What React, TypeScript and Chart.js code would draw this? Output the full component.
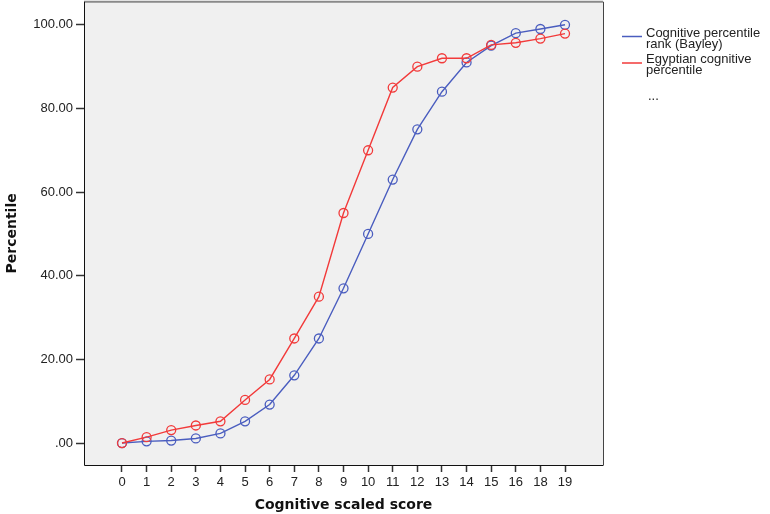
import React, { useEffect, useRef } from "react";
import { Chart, registerables } from "chart.js";

Chart.register(...registerables);

const categories = ["0", "1", "2", "3", "4", "5", "6", "7", "8", "9", "10", "11", "12", "13", "14", "15", "16", "18", "19"];
const bayley = [0, 0.4, 0.6, 1.1, 2.3, 5.2, 9.2, 16.2, 25, 37, 50, 63, 75, 84, 91, 95, 98, 99, 100];
const egyptian = [0, 1.4, 3.1, 4.2, 5.2, 10.3, 15.2, 25, 35, 55, 70, 85, 90, 92, 92, 95.2, 95.7, 96.7, 97.9];
const yTicks = [0, 20, 40, 60, 80, 100];
const legendItems = [
  { lines: ["Cognitive percentile", "rank (Bayley)"], color: "#4a5dbf" },
  { lines: ["Egyptian cognitive", "percentile"], color: "#f23a3a" },
];

const BLUE = "#4a5dbf";
const RED = "#f23a3a";
const SHIFT = 4;

const framePlugin = {
  id: "frame",
  beforeDatasetsDraw(chart: any) {
    const { ctx, chartArea: a } = chart;
    ctx.save();
    ctx.fillStyle = "#f0f0f0";
    ctx.fillRect(a.left, a.top, a.right - a.left, a.bottom - a.top);
    ctx.strokeStyle = "#8a8a8a";
    ctx.lineWidth = 2;
    ctx.beginPath();
    ctx.moveTo(a.left, a.top);
    ctx.lineTo(a.right, a.top);
    ctx.stroke();
    ctx.strokeStyle = "#444";
    ctx.lineWidth = 1;
    ctx.beginPath();
    ctx.moveTo(a.right + 0.5, a.top);
    ctx.lineTo(a.right + 0.5, a.bottom);
    ctx.stroke();
    ctx.strokeStyle = "#111";
    ctx.beginPath();
    ctx.moveTo(a.left + 0.5, a.top);
    ctx.lineTo(a.left + 0.5, a.bottom + 0.5);
    ctx.lineTo(a.right + 0.5, a.bottom + 0.5);
    ctx.stroke();
    ctx.restore();
  },
  afterDraw(chart: any) {
    const { ctx } = chart;
    ctx.save();
    ctx.font = "13px 'Liberation Sans', Arial, sans-serif";
    ctx.fillStyle = "#222";
    ctx.textBaseline = "middle";
    const x0 = 622;
    const starts = [33 + SHIFT, 59.5 + SHIFT];
    legendItems.forEach((it, i) => {
      const y = starts[i];
      ctx.strokeStyle = it.color;
      ctx.lineWidth = 1.5;
      ctx.beginPath();
      ctx.moveTo(x0, y + 3.5);
      ctx.lineTo(x0 + 20, y + 3.5);
      ctx.stroke();
      it.lines.forEach((ln, j) => {
        ctx.fillText(ln, x0 + 24, y + j * 11);
      });
    });
    ctx.fillText("...", x0 + 26, 96 + SHIFT);
    ctx.restore();
  },
};

export default function App() {
  const ref = useRef<HTMLCanvasElement | null>(null);
  useEffect(() => {
    document.body.style.margin = "0";
    const idx = categories.map((_, i) => i);
    const chart = new Chart(ref.current as HTMLCanvasElement, {
      type: "line",
      data: {
        datasets: [
          {
            label: "Cognitive percentile rank (Bayley)",
            data: idx.map((i) => ({ x: i, y: bayley[i] })),
            borderColor: BLUE,
            backgroundColor: "rgba(0,0,0,0)",
            pointBorderColor: BLUE,
            pointBackgroundColor: "rgba(0,0,0,0)",
            pointRadius: 4.5,
            pointBorderWidth: 1.3,
            borderWidth: 1.4,
            tension: 0,
            order: 1,
          },
          {
            label: "Egyptian cognitive percentile",
            data: idx.map((i) => ({ x: i, y: egyptian[i] })),
            borderColor: RED,
            backgroundColor: "rgba(0,0,0,0)",
            pointBorderColor: RED,
            pointBackgroundColor: "rgba(0,0,0,0)",
            pointRadius: 4.5,
            pointBorderWidth: 1.3,
            borderWidth: 1.4,
            tension: 0,
            order: 0,
          },
        ],
      },
      options: {
        animation: false,
        responsive: true,
        maintainAspectRatio: false,
        layout: { padding: { left: 0, right: 167, top: 1, bottom: 0 } },
        plugins: { legend: { display: false }, tooltip: { enabled: false } },
        scales: {
          x: {
            type: "linear",
            min: -1.544,
            max: 19.544,
            afterBuildTicks: (s: any) => {
              s.ticks = idx.map((i) => ({ value: i }));
            },
            afterFit: (s: any) => {
              s.height = 49;
              s.paddingLeft = 0;
              s.paddingRight = 0;
            },
            grid: { drawOnChartArea: false, drawTicks: true, tickLength: 7, color: "#333", tickWidth: 1.5 },
            border: { display: false },
            ticks: {
              autoSkip: false,
              maxRotation: 0,
              padding: 3,
              color: "#222",
              font: { family: "'Liberation Sans', Arial, sans-serif", size: 13 },
              callback: (v: any) => categories[Math.round(Number(v))] ?? "",
            },
            title: {
              display: true,
              text: "Cognitive scaled score",
              color: "#111",
              font: { family: "'DejaVu Sans', sans-serif", size: 14, weight: "bold" },
              padding: { top: 4, bottom: 0 },
            },
          },
          y: {
            min: -5.25,
            max: 105.5,
            afterBuildTicks: (s: any) => {
              s.ticks = yTicks.map((v) => ({ value: v }));
            },
            afterFit: (s: any) => {
              s.width = 84;
              s.paddingTop = 0;
              s.paddingBottom = 0;
            },
            grid: { drawOnChartArea: false, drawTicks: true, tickLength: 8, color: "#333", tickWidth: 1.5 },
            border: { display: false },
            ticks: {
              padding: 3,
              color: "#222",
              font: { family: "'Liberation Sans', Arial, sans-serif", size: 13 },
              callback: (v: any) => (Number(v) === 0 ? ".00" : Number(v).toFixed(2)),
            },
            title: {
              display: true,
              text: "Percentile",
              color: "#111",
              font: { family: "'DejaVu Sans', sans-serif", size: 14, weight: "bold" },
              padding: { top: 4, bottom: 4 },
            },
          },
        },
      },
      plugins: [framePlugin],
    } as any);
    return () => chart.destroy();
  }, []);
  return (
    <div style={{ position: "relative", width: 770, height: 514, overflow: "hidden" }}>
      <div style={{ position: "absolute", left: 0, top: -SHIFT, width: 770, height: 514 + SHIFT }}>
        <canvas ref={ref} />
      </div>
    </div>
  );
}
